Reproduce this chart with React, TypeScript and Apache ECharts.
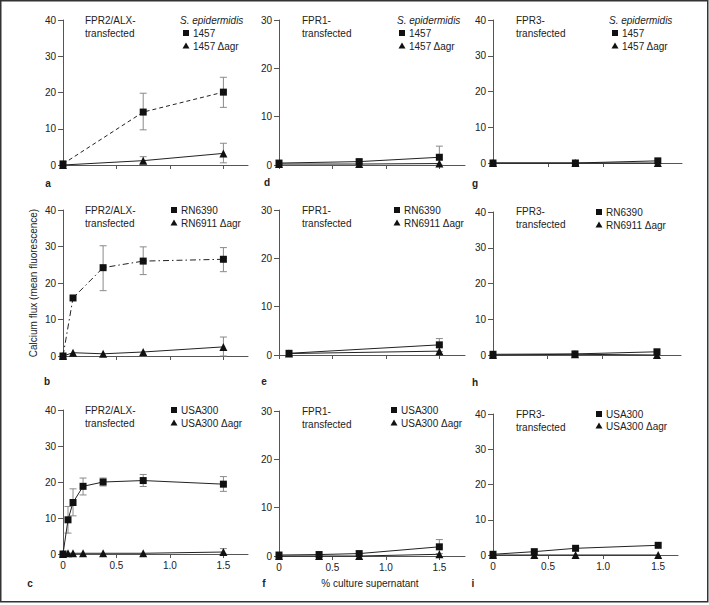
import React, { useEffect, useRef } from "react";
import * as echarts from "echarts";

// ---- tick labels ----
const xTickValues = [0, 0.5, 1.0, 1.5];
const yTicksNote = [0, 10, 20, 30, 40];

// ---- Row 1: S. epidermidis 1457 / 1457 Δagr ----
const xEpi = [0, 0.75, 1.5];
const aWt = [0.3, 14.6, 20.1];
const aAgr = [0, 1.2, 3.2];
const aWtErr = [[0.75, 9.7, 19.8], [1.5, 15.9, 24.2]];
const aAgrErr = [[0.75, 0.5, 2.3], [1.5, 0.6, 6.0]];
const dWt = [0.4, 0.7, 1.6];
const dAgr = [0.2, 0.2, 0.3];
const dWtErr = [[0.75, 0.2, 1.1], [1.5, 0, 3.9]];
const gWt = [0, 0, 0.6];
const gAgr = [0, 0, 0];

// ---- Row 2: RN6390 / RN6911 Δagr ----
const xB = [0, 0.09375, 0.375, 0.75, 1.5];
const bWt = [0, 15.9, 24.2, 26.0, 26.5];
const bAgr = [0, 0.9, 0.6, 1.1, 2.5];
const bWtErr = [[0.375, 17.9, 30.2], [0.75, 22.3, 29.9], [1.5, 23.1, 29.7]];
const bAgrErr = [[1.5, 0, 5.2]];
const xE = [0.09375, 1.5];
const eWt = [0.35, 2.1];
const eAgr = [0.3, 0.8];
const eWtErr = [[1.5, 0.7, 3.4]];
const xH = [0, 0.75, 1.5];
const hWt = [0.2, 0.3, 0.9];
const hAgr = [0, 0.2, 0];

// ---- Row 3: USA300 / USA300 Δagr ----
const xC = [0, 0.046875, 0.09375, 0.1875, 0.375, 0.75, 1.5];
const cWt = [0, 9.5, 14.3, 18.8, 20.0, 20.4, 19.4];
const cAgr = [0, 0.2, 0.2, 0.2, 0.2, 0.2, 0.55];
const cWtErr = [
  [0.046875, 5.8, 13.2],
  [0.09375, 10.6, 18.1],
  [0.1875, 16.4, 21.1],
  [0.375, 18.9, 21.1],
  [0.75, 18.75, 22.1],
  [1.5, 17.4, 21.5],
];
const cAgrErr = [[1.5, 0, 1.5]];
const xF = [0, 0.375, 0.75, 1.5];
const fWt = [0.2, 0.3, 0.5, 1.9];
const fAgr = [0, 0, 0, 0.35];
const fWtErr = [[1.5, 0.5, 3.4]];
const xI = [0, 0.375, 0.75, 1.5];
const iWt = [0.2, 0.95, 1.9, 2.75];
const iAgr = [0, 0, 0, 0];

// ---- texts ----
const receptorTitles = ["FPR2/ALX-", "FPR1-", "FPR3-"];
const strainNames = [
  ["1457", "1457 Δagr"],
  ["RN6390", "RN6911 Δagr"],
  ["USA300", "USA300 Δagr"],
];
const panelLetters = ["a", "d", "g", "b", "e", "h", "c", "f", "i"];

const FONT = "'Liberation Sans', Arial, sans-serif";
const TXT = "#222";

const zip = (xs: number[], ys: number[]) => xs.map((x, i) => [x, ys[i]]);

// layout per panel: left, top, height, width, xmax, ymax
const panels = [
  { id: "a", left: 63, top: 20, h: 145, w: 185, xmax: 1.73, ymax: 40, x: xEpi, wt: aWt, agr: aAgr, err: [...aWtErr, ...aAgrErr], dash: [4, 3] as any, row: 0, col: 0 },
  { id: "d", left: 279, top: 20, h: 145, w: 186, xmax: 1.74, ymax: 30, x: xEpi, wt: dWt, agr: dAgr, err: dWtErr, dash: "solid" as any, row: 0, col: 1 },
  { id: "g", left: 493, top: 20, h: 143, w: 189, xmax: 1.72, ymax: 40, x: xEpi, wt: gWt, agr: gAgr, err: [], dash: "solid" as any, row: 0, col: 2 },
  { id: "b", left: 63, top: 210, h: 146, w: 185, xmax: 1.73, ymax: 40, x: xB, wt: bWt, agr: bAgr, err: [...bWtErr, ...bAgrErr], dash: [6, 3, 1.5, 3] as any, row: 1, col: 0 },
  { id: "e", left: 279, top: 210, h: 145, w: 186, xmax: 1.74, ymax: 30, x: xE, wt: eWt, agr: eAgr, err: eWtErr, dash: "solid" as any, row: 1, col: 1 },
  { id: "h", left: 493, top: 212, h: 143, w: 188, xmax: 1.72, ymax: 40, x: xH, wt: hWt, agr: hAgr, err: [], dash: "solid" as any, row: 1, col: 2 },
  { id: "c", left: 63, top: 410, h: 144, w: 185, xmax: 1.73, ymax: 40, x: xC, wt: cWt, agr: cAgr, err: [...cWtErr, ...cAgrErr], dash: "solid" as any, row: 2, col: 0 },
  { id: "f", left: 279, top: 411, h: 145, w: 186, xmax: 1.74, ymax: 30, x: xF, wt: fWt, agr: fAgr, err: fWtErr, dash: "solid" as any, row: 2, col: 1 },
  { id: "i", left: 493, top: 414, h: 141, w: 185, xmax: 1.68, ymax: 40, x: xI, wt: iWt, agr: iAgr, err: [], dash: "solid" as any, row: 2, col: 2 },
];

// legend / annotation positions
const annot = [
  // row 0
  { tx: 85, ty: 20, lx: 186, ly: 33, dy: 13, italic: true, ix: 180 },
  { tx: 302, ty: 20, lx: 402, ly: 33, dy: 13, italic: true, ix: 397 },
  { tx: 516, ty: 20, lx: 615, ly: 33, dy: 13, italic: true, ix: 609 },
  // row 1
  { tx: 85, ty: 210, lx: 174, ly: 210, dy: 13 },
  { tx: 302, ty: 210, lx: 397, ly: 210, dy: 13 },
  { tx: 516, ty: 211, lx: 599, ly: 212, dy: 13 },
  // row 2
  { tx: 85, ty: 410, lx: 174, ly: 410, dy: 13 },
  { tx: 302, ty: 411, lx: 394, ly: 410, dy: 13 },
  { tx: 516, ty: 414, lx: 599, ly: 414, dy: 12 },
];
const letterPos = [
  [48, 183], [267, 182], [475, 183],
  [47, 381], [264, 381], [475, 382],
  [30, 583], [264, 583], [473, 583],
];

export default function App() {
  const ref = useRef<HTMLDivElement>(null);
  useEffect(() => {
    if (!ref.current) return;
    const chart = echarts.init(ref.current, undefined, { renderer: "svg" });

    const grids: any[] = [];
    const xAxes: any[] = [];
    const yAxes: any[] = [];
    const series: any[] = [];
    const graphics: any[] = [];

    panels.forEach((p, i) => {
      grids.push({ left: p.left, top: p.top, width: p.w, height: p.h, outerBoundsMode: "none", containLabel: false });
      xAxes.push({
        gridIndex: i,
        type: "value",
        min: 0,
        max: p.xmax,
        splitLine: { show: false },
        axisLine: { show: true, lineStyle: { color: "#555", width: 1 } },
        axisTick: { show: true, customValues: xTickValues, length: 4, lineStyle: { color: "#555" } },
        axisLabel: {
          show: p.row === 2,
          customValues: xTickValues,
          formatter: (v: number) => (v === 0 ? "0" : v.toFixed(1)),
          fontSize: 10,
          fontFamily: FONT,
          color: TXT,
          margin: 6,
        },
      });
      yAxes.push({
        gridIndex: i,
        type: "value",
        min: 0,
        max: p.ymax,
        interval: 10,
        splitLine: { show: false },
        axisLine: { show: true, lineStyle: { color: "#555", width: 1 } },
        axisTick: { show: true, length: 5, lineStyle: { color: "#555" } },
        axisLabel: { fontSize: 10, fontFamily: FONT, color: TXT, margin: 7 },
      });
      series.push({
        type: "custom",
        xAxisIndex: i,
        yAxisIndex: i,
        z: 1,
        clip: false,
        data: p.err,
        encode: { x: 0, y: [1, 2] },
        renderItem: (_params: any, api: any) => {
          const x = api.value(0);
          const lo = api.value(1);
          const hi = api.value(2);
          const a = api.coord([x, lo]);
          const b = api.coord([x, hi]);
          const w = 3.5;
          const style = { stroke: "#8a8a8a", lineWidth: 1 };
          return {
            type: "group",
            children: [
              { type: "line", shape: { x1: a[0], y1: a[1], x2: b[0], y2: b[1] }, style },
              { type: "line", shape: { x1: a[0] - w, y1: a[1], x2: a[0] + w, y2: a[1] }, style },
              { type: "line", shape: { x1: b[0] - w, y1: b[1], x2: b[0] + w, y2: b[1] }, style },
            ],
          };
        },
      });
      series.push({
        type: "line",
        xAxisIndex: i,
        yAxisIndex: i,
        z: 3,
        clip: false,
        data: zip(p.x, p.agr),
        symbol: "triangle",
        symbolSize: 8,
        itemStyle: { color: "#111" },
        lineStyle: { color: "#222", width: 1, type: "solid" },
      });
      series.push({
        type: "line",
        xAxisIndex: i,
        yAxisIndex: i,
        z: 4,
        clip: false,
        data: zip(p.x, p.wt),
        symbol: "rect",
        symbolSize: 7,
        itemStyle: { color: "#111" },
        lineStyle: { color: "#222", width: 1, type: p.dash },
      });

      // annotations
      const an = annot[i];
      const names = strainNames[p.row];
      graphics.push({ type: "text", x: an.tx, y: an.ty, style: { text: receptorTitles[p.col], font: `10px ${FONT}`, fill: TXT, textVerticalAlign: "middle" } });
      graphics.push({ type: "text", x: an.tx, y: an.ty + 13, style: { text: "transfected", font: `10px ${FONT}`, fill: TXT, textVerticalAlign: "middle" } });
      if (an.italic) {
        graphics.push({ type: "text", x: an.ix, y: an.ty, style: { text: "S. epidermidis", font: `italic 10px ${FONT}`, fill: TXT, textVerticalAlign: "middle" } });
      }
      graphics.push({ type: "rect", shape: { x: an.lx - 3, y: an.ly - 3, width: 6, height: 6 }, style: { fill: "#111" } });
      graphics.push({ type: "text", x: an.lx + 7, y: an.ly, style: { text: names[0], font: `10px ${FONT}`, fill: TXT, textVerticalAlign: "middle" } });
      const ty = an.ly + an.dy;
      graphics.push({ type: "polygon", shape: { points: [[an.lx, ty - 3.5], [an.lx + 3.5, ty + 2.5], [an.lx - 3.5, ty + 2.5]] }, style: { fill: "#111" } });
      graphics.push({ type: "text", x: an.lx + 7, y: ty, style: { text: names[1], font: `10px ${FONT}`, fill: TXT, textVerticalAlign: "middle" } });
      const lp = letterPos[i];
      graphics.push({ type: "text", x: lp[0], y: lp[1], style: { text: panelLetters[i], font: `bold 10px ${FONT}`, fill: TXT, textAlign: "center", textVerticalAlign: "middle" } });
    });

    graphics.push({
      type: "text",
      x: 33,
      y: 283,
      rotation: Math.PI / 2,
      style: { text: "Calcium flux (mean fluorescence)", font: `10px ${FONT}`, fill: TXT, textAlign: "center", textVerticalAlign: "middle" },
    });
    graphics.push({
      type: "text",
      x: 370,
      y: 583,
      style: { text: "% culture supernatant", font: `10px ${FONT}`, fill: TXT, textAlign: "center", textVerticalAlign: "middle" },
    });
    graphics.push({
      type: "rect",
      shape: { x: 0.75, y: 0.75, width: 707, height: 601 },
      style: { fill: "none", stroke: "#333", lineWidth: 1.5 },
    });

    chart.setOption({
      animation: false,
      backgroundColor: "#fff",
      grid: grids,
      xAxis: xAxes,
      yAxis: yAxes,
      series,
      graphic: { elements: graphics },
    });
    return () => chart.dispose();
  }, []);
  return (
    <div
      ref={ref}
      style={{ position: "absolute", left: 0, top: 0, width: 709, height: 605 }}
    />
  );
}
